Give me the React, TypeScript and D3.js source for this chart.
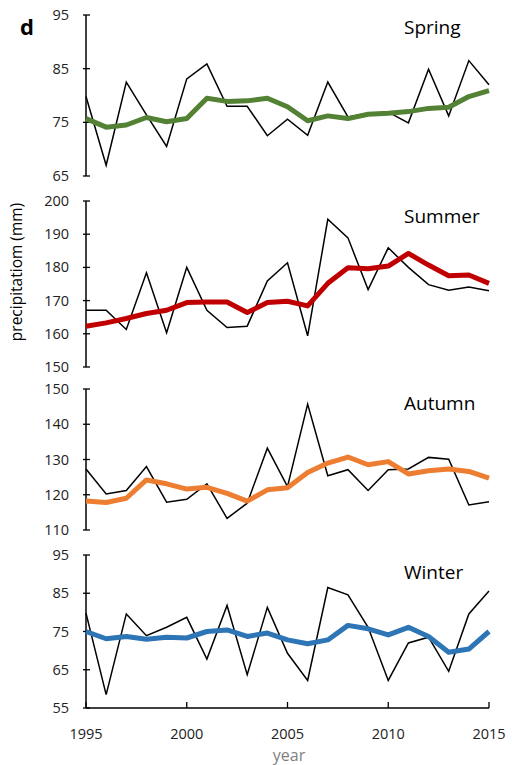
import React from "react";
import * as d3 from "d3";

const years = d3.range(1995, 2016);
const xTicks = [1995, 2000, 2005, 2010, 2015];

const springObs = [79.8, 67.0, 82.5, 76.4, 70.5, 83.1, 85.9, 78.0, 78.0, 72.5, 75.6, 72.6, 82.5, 76.0, 76.7, 76.9, 74.9, 84.9, 76.2, 86.5, 82.0];
const springSmooth = [75.7, 74.1, 74.5, 75.9, 75.1, 75.7, 79.5, 78.9, 79.0, 79.5, 77.9, 75.3, 76.2, 75.7, 76.5, 76.7, 77.0, 77.6, 77.8, 79.8, 80.9];
const summerObs = [167.1, 167.1, 161.3, 178.4, 160.3, 180.0, 167.1, 161.9, 162.3, 175.9, 181.4, 159.4, 194.5, 188.9, 173.3, 185.9, 180.0, 174.8, 173.1, 174.1, 173.0];
const summerSmooth = [162.3, 163.3, 164.6, 166.1, 167.1, 169.4, 169.6, 169.6, 166.4, 169.4, 169.8, 168.4, 175.2, 179.9, 179.6, 180.4, 184.2, 180.7, 177.5, 177.7, 175.2];
const autumnObs = [127.3, 120.2, 121.2, 128.0, 117.9, 118.7, 123.1, 113.3, 117.6, 133.2, 122.3, 145.7, 125.4, 127.1, 121.2, 127.1, 127.3, 130.6, 130.1, 117.1, 118.0];
const autumnSmooth = [118.2, 117.8, 119.0, 124.2, 123.1, 121.6, 122.1, 120.4, 118.2, 121.4, 122.0, 126.3, 129.0, 130.7, 128.5, 129.4, 125.9, 126.8, 127.3, 126.6, 124.7];
const winterObs = [79.8, 58.5, 79.6, 73.9, 76.1, 78.7, 67.8, 81.8, 63.7, 81.3, 69.3, 62.2, 86.5, 84.6, 76.1, 62.2, 72.0, 73.5, 64.6, 79.6, 85.6];
const winterSmooth = [75.0, 73.1, 73.7, 73.0, 73.5, 73.3, 75.0, 75.4, 73.7, 74.6, 72.8, 71.8, 72.8, 76.6, 75.7, 74.1, 76.1, 73.7, 69.6, 70.4, 75.0];

const seasons = ["Spring", "Summer", "Autumn", "Winter"];
const yDomains: [number, number][] = [[65, 95], [150, 200], [110, 150], [55, 95]];
const yTickSets = [[65, 75, 85, 95], [150, 160, 170, 180, 190, 200], [110, 120, 130, 140, 150], [55, 65, 75, 85, 95]];
const obsSeries = [springObs, summerObs, autumnObs, winterObs];
const smoothSeries = [springSmooth, summerSmooth, autumnSmooth, winterSmooth];

const colors = ["#548235", "#c00000", "#ed7d31", "#2e75b6"];
const panelRanges: [number, number][] = [[176, 15], [367, 201], [530, 389], [708, 555]];
const labelY = [34, 223, 410, 579];

const FONT = "'Open Sans', 'Noto Sans', sans-serif";

export default function App() {
  const x = d3.scaleLinear().domain([1995, 2015]).range([86, 489]);
  return (
    <div style={{ position: "absolute", left: 0, top: 0 }}>
      <svg width={512} height={765} style={{ display: "block", background: "#fff" }}>
        <text x={20} y={35} fontFamily={FONT} fontWeight="bold" fontSize={22} fill="#000">d</text>
        {seasons.map((s, i) => {
          const y = d3.scaleLinear().domain(yDomains[i]).range(panelRanges[i]);
          const line = d3.line<number>().x((_, j) => x(years[j])).y((v) => y(v));
          const ticks = yTickSets[i];
          const x0 = x(1995);
          return (
            <g key={s}>
              <line x1={x0} x2={x0} y1={y(yDomains[i][1])} y2={y(yDomains[i][0])} stroke="#000" strokeWidth={1.5} />
              {ticks.map((t) => (
                <g key={t}>
                  <line x1={x0 - 3} x2={x0 + 4} y1={y(t)} y2={y(t)} stroke="#000" strokeWidth={1.3} />
                  <text x={69} y={y(t)} dy="0.35em" textAnchor="end" fontFamily={FONT} fontSize={14.5} fill="#222">{t}</text>
                </g>
              ))}
              <path d={line(obsSeries[i]) || ""} fill="none" stroke="#000" strokeWidth={1.5} strokeLinejoin="miter" />
              <path d={line(smoothSeries[i]) || ""} fill="none" stroke={colors[i]} strokeWidth={5} strokeLinejoin="round" />
              <text x={404} y={labelY[i]} fontFamily={FONT} fontSize={19} fill="#000">{s}</text>
            </g>
          );
        })}
        <line x1={x(1995)} x2={x(2015)} y1={708} y2={708} stroke="#000" strokeWidth={1.5} />
        {xTicks.map((t) => (
          <g key={t}>
            <line x1={x(t)} x2={x(t)} y1={708} y2={702} stroke="#000" strokeWidth={1.3} />
            <text x={x(t)} y={739} textAnchor="middle" fontFamily={FONT} fontSize={14.5} fill="#222">{t}</text>
          </g>
        ))}
        <text x={289} y={761} textAnchor="middle" fontFamily={FONT} fontSize={16} fill="#808080">year</text>
        <text transform="translate(22,272) rotate(-90)" textAnchor="middle" fontFamily={FONT} fontSize={15.5} fill="#000">precipitatiom (mm)</text>
      </svg>
    </div>
  );
}
